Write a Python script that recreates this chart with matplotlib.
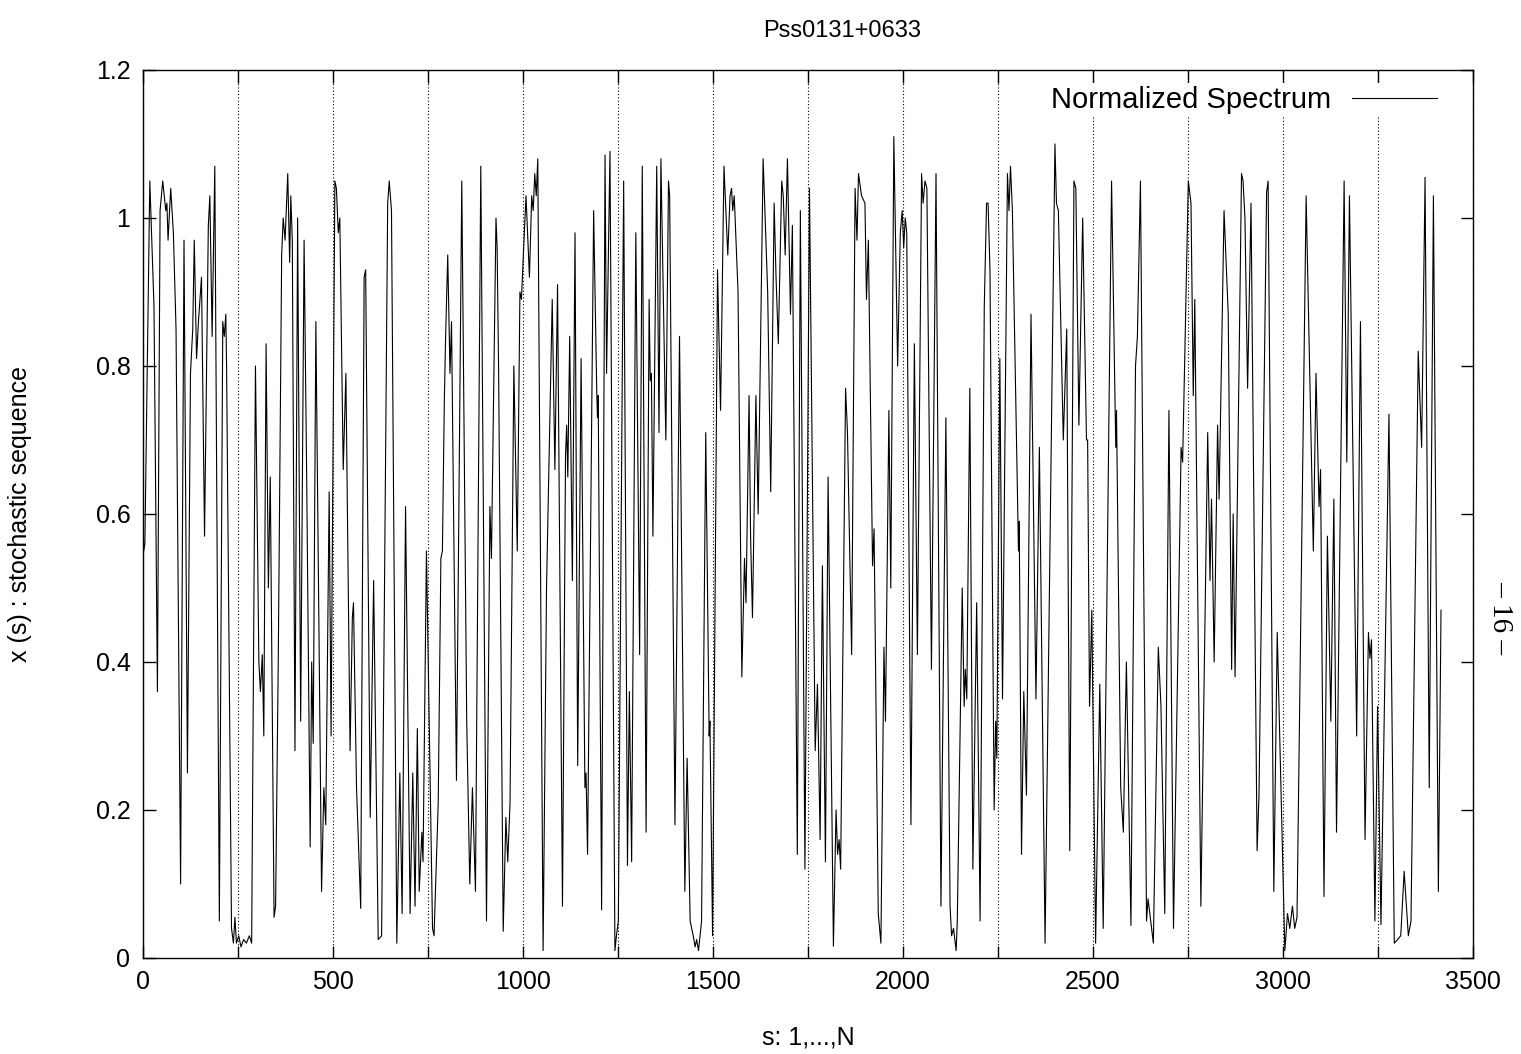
import matplotlib
matplotlib.use("Agg")
import matplotlib.pyplot as plt
from matplotlib.ticker import MultipleLocator
import numpy as np

plt.rcParams["font.family"] = ["Liberation Sans", "DejaVu Sans"]

# sequence index s and normalized value x(s) at turning points
s_vals = [
    0, 2, 5, 18, 29, 38, 45, 52, 56, 60, 63, 66, 73, 80, 87, 99, 108, 117, 125, 131,
    135, 141, 146, 150, 154, 162, 172, 176, 182, 189, 201, 210, 214, 218, 220, 233, 238, 242, 246, 252,
    258, 265, 272, 280, 286, 296, 305, 309, 314, 318, 324, 330, 335, 345,
    349, 356, 365, 369, 374, 381, 386, 389, 393, 400, 407, 415, 424, 431, 440, 444,
    448, 455, 470, 476, 481, 490, 495, 505, 509, 514, 518, 527, 534, 545, 551, 554, 562, 573, 582, 586,
    598, 607, 619, 628, 644, 648, 654, 668, 676, 682, 691, 703,
    710, 716, 722, 727, 734, 737, 746, 762, 766, 777, 784, 788, 793, 796, 802, 808, 812, 825, 839, 852,
    860, 867, 875, 889, 904, 913, 917, 929, 932, 936, 948, 955, 960, 966, 976, 985, 992, 996, 1001, 1008,
    1012, 1017, 1023, 1027, 1031, 1035, 1039, 1053,
    1062, 1077, 1084, 1091, 1104, 1112, 1115, 1118, 1123, 1130, 1137, 1144, 1153, 1163, 1166, 1170, 1186, 1194, 1196, 1198,
    1207, 1216, 1220, 1229, 1242, 1246, 1251, 1265, 1275, 1280, 1286, 1297, 1307, 1314, 1324, 1332, 1335, 1338, 1342, 1352,
    1358, 1363, 1376, 1383, 1386, 1400, 1412, 1426,
    1432, 1440, 1448, 1453, 1457, 1462, 1466, 1470, 1481, 1490, 1492, 1499, 1512, 1520, 1529, 1539, 1545, 1549, 1552, 1556,
    1566, 1576, 1583, 1587, 1595, 1599, 1604, 1613, 1619, 1632, 1644, 1652, 1661, 1666, 1672, 1681, 1685, 1690, 1696, 1704,
    1709, 1722, 1730, 1742, 1754, 1769, 1775, 1782, 1788, 1796, 1803, 1817, 1824, 1828, 1832, 1836, 1849, 1854, 1865, 1874,
    1879, 1883, 1891, 1900, 1904, 1909, 1920, 1924, 1935, 1942, 1950, 1954, 1963, 1968, 1976, 1986, 1993, 1998, 2002, 2006,
    2010, 2021, 2030, 2038, 2049, 2053, 2058, 2063, 2075, 2087, 2100, 2113, 2124, 2128, 2133, 2140, 2143, 2156, 2161, 2164,
    2168, 2176, 2184, 2194, 2203, 2214, 2220, 2224, 2229, 2240, 2244, 2247, 2255, 2262, 2275, 2279, 2283, 2288, 2304, 2306,
    2312, 2318, 2325, 2337, 2350, 2359, 2374, 2400, 2404, 2409, 2422, 2431, 2439, 2450, 2455, 2463, 2473, 2483, 2486, 2491,
    2497, 2507, 2518, 2527, 2549, 2560, 2562, 2573, 2580, 2588, 2600, 2612, 2617, 2625, 2641, 2645, 2652, 2659, 2672, 2679,
    2689, 2700, 2712, 2732, 2736, 2751, 2758, 2764, 2768, 2784, 2802, 2808, 2812, 2819, 2828, 2832, 2845, 2856, 2865, 2869,
    2874, 2891, 2895, 2900, 2907, 2916, 2932, 2937, 2957, 2961, 2976, 2985, 3005, 3012, 3018, 3025, 3031, 3037, 3061, 3069,
    3080, 3087, 3095, 3099, 3108, 3117, 3126, 3134, 3141, 3161, 3168, 3175, 3194, 3204, 3216, 3225, 3229, 3233, 3242, 3249,
    3258, 3279, 3293, 3302, 3310, 3319, 3330, 3337, 3356, 3365, 3374, 3385, 3396, 3409, 3416,
]
x_vals = [
    0.60, 0.55, 0.56, 1.05, 0.88, 0.36, 1.01, 1.05, 1.03, 1.01, 1.02, 0.97, 1.04, 0.98, 0.85, 0.10, 0.97, 0.25, 0.79, 0.85,
    0.97, 0.81, 0.86, 0.89, 0.92, 0.57, 0.99, 1.03, 0.84, 1.07, 0.05, 0.86, 0.84, 0.87, 0.80, 0.04, 0.02, 0.055, 0.02, 0.03,
    0.015, 0.025, 0.02, 0.03, 0.02, 0.80, 0.40, 0.36, 0.41, 0.30, 0.83, 0.50, 0.65, 0.055,
    0.07, 0.40, 0.95, 1.00, 0.97, 1.06, 0.94, 1.03, 0.97, 0.28, 1.00, 0.32, 0.97, 0.64, 0.15, 0.40,
    0.29, 0.86, 0.09, 0.23, 0.18, 0.63, 0.30, 1.05, 1.04, 0.98, 1.00, 0.66, 0.79, 0.28, 0.46, 0.48, 0.23, 0.067, 0.92, 0.93,
    0.19, 0.51, 0.025, 0.03, 1.02, 1.05, 1.01, 0.02, 0.25, 0.06, 0.61, 0.06,
    0.25, 0.07, 0.31, 0.09, 0.17, 0.13, 0.55, 0.04, 0.03, 0.21, 0.54, 0.55, 0.75, 0.83, 0.95, 0.79, 0.86, 0.24, 1.05, 0.32,
    0.10, 0.23, 0.09, 1.07, 0.05, 0.61, 0.54, 1.00, 0.96, 0.79, 0.036, 0.19, 0.13, 0.21, 0.80, 0.55, 0.90, 0.89, 0.95, 1.03,
    0.98, 0.92, 1.03, 1.01, 1.06, 1.03, 1.08, 0.01,
    0.50, 0.89, 0.66, 0.91, 0.07, 0.68, 0.72, 0.65, 0.84, 0.51, 0.98, 0.26, 0.81, 0.23, 0.25, 0.14, 1.01, 0.77, 0.73, 0.76,
    0.065, 1.085, 0.79, 1.09, 0.01, 0.03, 0.05, 1.05, 0.125, 0.36, 0.13, 0.98, 0.41, 1.07, 0.17, 0.89, 0.78, 0.79, 0.57, 1.07,
    0.71, 1.08, 0.70, 1.05, 1.03, 0.18, 0.84, 0.09,
    0.27, 0.05, 0.03, 0.015, 0.025, 0.01, 0.03, 0.05, 0.71, 0.30, 0.32, 0.03, 0.93, 0.74, 1.07, 0.95, 1.03, 1.04, 1.01, 1.03,
    0.90, 0.38, 0.54, 0.48, 0.76, 0.57, 0.46, 0.76, 0.60, 1.08, 0.90, 0.63, 1.02, 0.92, 0.83, 1.05, 1.03, 0.95, 1.08, 0.87,
    0.99, 0.14, 1.01, 0.12, 1.04, 0.28, 0.37, 0.16, 0.53, 0.13, 0.65, 0.016, 0.20, 0.14, 0.16, 0.12, 0.77, 0.71, 0.41, 1.04,
    0.97, 1.06, 1.03, 1.02, 0.89, 0.97, 0.53, 0.58, 0.06, 0.02, 0.42, 0.32, 0.74, 0.50, 1.11, 0.80, 0.98, 1.01, 0.96, 1.00,
    0.98, 0.18, 0.83, 0.41, 1.06, 1.02, 1.05, 1.04, 0.39, 1.06, 0.07, 0.73, 0.07, 0.03, 0.04, 0.01, 0.05, 0.50, 0.34, 0.39,
    0.35, 0.77, 0.12, 0.48, 0.05, 0.88, 1.02, 1.02, 0.93, 0.20, 0.32, 0.27, 0.81, 0.35, 1.06, 1.01, 1.07, 1.01, 0.55, 0.59,
    0.14, 0.36, 0.22, 0.87, 0.35, 0.69, 0.02, 1.10, 1.02, 1.01, 0.70, 0.85, 0.145, 1.05, 1.04, 0.72, 1.00, 0.70, 0.70, 0.34,
    0.47, 0.02, 0.37, 0.04, 1.05, 0.69, 0.74, 0.23, 0.17, 0.40, 0.044, 0.80, 0.84, 1.05, 0.05, 0.08, 0.05, 0.02, 0.42, 0.34,
    0.06, 0.74, 0.04, 0.69, 0.67, 1.05, 1.02, 0.76, 0.89, 0.07, 0.71, 0.51, 0.62, 0.40, 0.72, 0.62, 1.01, 0.87, 0.39, 0.60,
    0.38, 1.06, 1.05, 1.00, 0.77, 1.02, 0.145, 0.22, 1.035, 1.05, 0.09, 0.44, 0.01, 0.06, 0.04, 0.07, 0.04, 0.055, 1.03, 0.83,
    0.55, 0.79, 0.61, 0.66, 0.083, 0.57, 0.32, 0.62, 0.17, 1.05, 0.67, 1.03, 0.30, 0.86, 0.16, 0.44, 0.405, 0.43, 0.05, 0.34,
    0.045, 0.735, 0.02, 0.025, 0.03, 0.117, 0.03, 0.05, 0.82, 0.69, 1.055, 0.23, 1.03, 0.09, 0.47,
]

fig = plt.figure(figsize=(15.21, 10.54), dpi=100)
ax = fig.add_axes([0.094, 0.0911, 0.8744, 0.8425])

ax.plot(s_vals, x_vals, color="black", lw=0.8, label="Normalized Spectrum")

ax.set_xlim(0, 3500)
ax.set_ylim(0, 1.2)
ax.xaxis.set_major_locator(MultipleLocator(500))
ax.xaxis.set_minor_locator(MultipleLocator(250))
ax.yaxis.set_major_locator(MultipleLocator(0.2))
ax.yaxis.set_major_formatter(plt.FuncFormatter(lambda v, p: f"{v:g}"))

ax.tick_params(axis="both", which="both", direction="in", top=True, right=True,
               length=9, width=1.0, labelsize=18)
ax.tick_params(axis="x", which="major", pad=9)
ax.tick_params(axis="y", which="major", pad=9)
ax.xaxis.grid(True, which="both", linestyle=(0, (1, 2)), color="black", lw=0.8)

for sp in ax.spines.values():
    sp.set_linewidth(1.0)

ax.set_title("Pss0131+0633", fontsize=17, pad=24, x=0.526)
ax.set_xlabel("s: 1,...,N", fontsize=18, labelpad=22)
ax.set_ylabel("x (s) : stochastic sequence", fontsize=18, labelpad=46)

leg = ax.legend(loc="upper right", bbox_to_anchor=(0.975, 0.985), borderaxespad=0,
                borderpad=0.1, markerfirst=False, handlelength=2.9, handletextpad=0.72,
                fontsize=21, frameon=True, fancybox=False)
leg.get_frame().set_facecolor("white")
leg.get_frame().set_edgecolor("none")
leg.get_frame().set_alpha(1)

fig.text(0.986, 1 - 618 / 1054, "– 16 –", rotation=270, ha="center", va="center",
         fontsize=21, family=["Liberation Serif", "DejaVu Serif"])

fig.savefig("out.png", dpi=100)
